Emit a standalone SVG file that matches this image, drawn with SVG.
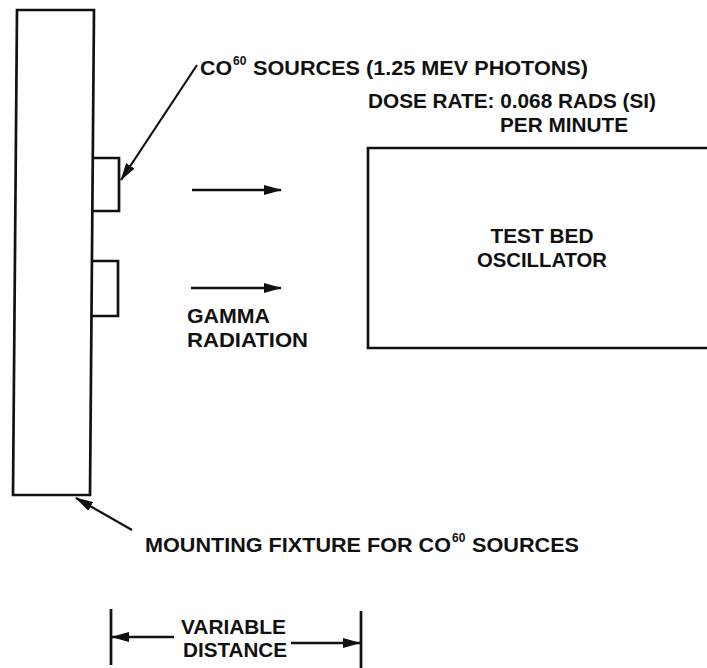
<svg xmlns="http://www.w3.org/2000/svg" width="707" height="668" viewBox="0 0 707 668">
<style>
.ln{stroke:#111;stroke-width:2.7;fill:none;stroke-linejoin:miter}
.thin{stroke:#111;stroke-width:2.2;fill:none}
.t{font-family:"Liberation Sans",Arial,Helvetica,sans-serif;font-weight:bold;fill:#111;font-size:20px}
.sup{font-family:"Liberation Sans",Arial,Helvetica,sans-serif;font-weight:bold;fill:#111;font-size:12px}
</style>
<defs>
<marker id="ah" viewBox="0 0 18 10" refX="17" refY="5" markerWidth="18" markerHeight="10" markerUnits="userSpaceOnUse" orient="auto">
<path d="M0,0 L18,5 L0,10 Z" fill="#111"/>
</marker>
</defs>
<rect width="707" height="668" fill="#fff"/>
<g id="fixture">
<path class="ln" d="M17,10 L94,10 L90,495 L13,495 Z"/>
</g>
<g id="source1">
<path class="ln" d="M94,158 L119,158 L119,211 L93,211"/>
</g>
<g id="source2">
<path class="ln" d="M93,261 L118,261 L118,316 L92,316"/>
</g>
<g id="testbed">
<path class="ln" d="M707,148 L368,148 L368,348 L707,348"/>
<text class="t" x="542" y="243" text-anchor="middle" textLength="103" lengthAdjust="spacingAndGlyphs">TEST BED</text>
<text class="t" x="542" y="267" text-anchor="middle" textLength="130" lengthAdjust="spacingAndGlyphs">OSCILLATOR</text>
</g>
<g id="labels">
<text class="t" x="200" y="75" textLength="32" lengthAdjust="spacingAndGlyphs">CO</text>
<text class="sup" x="233" y="65">60</text>
<text class="t" x="253" y="75" textLength="335" lengthAdjust="spacingAndGlyphs">SOURCES (1.25 MEV PHOTONS)</text>
<text class="t" x="368" y="108" textLength="288" lengthAdjust="spacingAndGlyphs">DOSE RATE: 0.068 RADS (SI)</text>
<text class="t" x="500" y="132" textLength="128" lengthAdjust="spacingAndGlyphs">PER MINUTE</text>
<text class="t" x="187" y="323" textLength="83" lengthAdjust="spacingAndGlyphs">GAMMA</text>
<text class="t" x="187" y="347" textLength="121" lengthAdjust="spacingAndGlyphs">RADIATION</text>
<text class="t" x="145" y="552" textLength="306" lengthAdjust="spacingAndGlyphs">MOUNTING FIXTURE FOR CO</text>
<text class="sup" x="452" y="542">60</text>
<text class="t" x="472" y="552" textLength="107" lengthAdjust="spacingAndGlyphs">SOURCES</text>
<text class="t" x="181" y="634" textLength="105" lengthAdjust="spacingAndGlyphs">VARIABLE</text>
<text class="t" x="183" y="657" textLength="104" lengthAdjust="spacingAndGlyphs">DISTANCE</text>
</g>
<g id="connectors">
<line class="thin" x1="197" y1="65" x2="121" y2="180" marker-end="url(#ah)"/>
<line class="ln" x1="192" y1="190" x2="281" y2="190" marker-end="url(#ah)"/>
<line class="ln" x1="191" y1="288" x2="281" y2="288" marker-end="url(#ah)"/>
<line class="thin" x1="132" y1="530" x2="76" y2="498" marker-end="url(#ah)"/>
<line class="ln" x1="111" y1="609" x2="111" y2="665"/>
<line class="ln" x1="361" y1="611" x2="361" y2="668"/>
<line class="ln" x1="174" y1="637" x2="112" y2="637" marker-end="url(#ah)"/>
<line class="ln" x1="291" y1="643" x2="360" y2="643" marker-end="url(#ah)"/>
</g>
</svg>
